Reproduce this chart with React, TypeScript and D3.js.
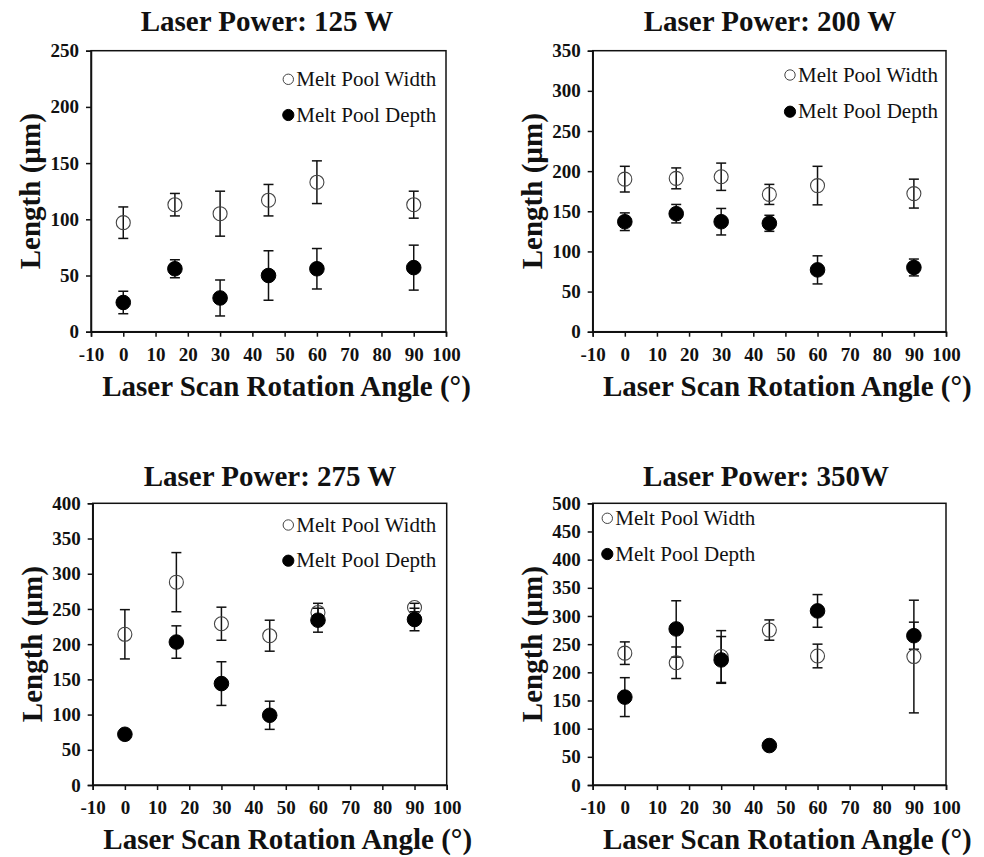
import React, { useEffect, useRef } from "react";
import * as d3 from "d3";

const angles = [0, 16, 30, 45, 60, 90];
const xTicks = [-10, 0, 10, 20, 30, 40, 50, 60, 70, 80, 90, 100];

const titles = ["Laser Power: 125 W", "Laser Power: 200 W", "Laser Power: 275 W", "Laser Power: 350W"];
const yMaxes = [250, 350, 400, 500];

const width125 = [97, 113, 105, 117, 133, 113];
const width125Err = [14, 10, 20, 14, 19, 12];
const depth125 = [26, 56, 30, 50, 56, 57];
const depth125Err = [10, 8, 16, 22, 18, 20];

const width200 = [190, 191, 193, 171, 182, 172];
const width200Err = [16, 13, 17, 12.5, 24, 18];
const depth200 = [137, 147, 137, 135, 77, 80];
const depth200Err = [11, 11.5, 16.5, 10, 17.5, 10.5];

const width275 = [214, 288, 229, 212, 245, 252];
const width275Err = [35, 42, 23.5, 22, 13, 6];
const depth275 = [72, 203, 144, 99, 234, 235];
const depth275Err = [3, 23, 31, 20, 17, 16];

const width350 = [234, 217, 228, 275, 229, 228];
const width350Err = [20, 28, 46, 18, 21, 100];
const depth350 = [156, 277, 222, 70, 309, 265];
const depth350Err = [34.5, 50, 41.5, 3, 29, 24];

const legendLabels = ["Melt Pool Width", "Melt Pool Depth"];
const yLabel = "Length (µm)";
const xLabel = "Laser Scan Rotation Angle (°)";

const FONT = "'Liberation Serif', 'Times New Roman', serif";

const panels = [
  { title: titles[0], yMax: yMaxes[0], w: width125, we: width125Err, d: depth125, de: depth125Err,
    box: [91, 50.7, 446, 331.7], titleX: 267, titleY: 31, legend: { side: "right", dx: -157.7, dy: 28.6, gap: 35.7 } },
  { title: titles[1], yMax: yMaxes[1], w: width200, we: width200Err, d: depth200, de: depth200Err,
    box: [592.7, 50.7, 946, 331.7], titleX: 770, titleY: 31, legend: { side: "right", dx: -156, dy: 24.3, gap: 36.7 } },
  { title: titles[2], yMax: yMaxes[2], w: width275, we: width275Err, d: depth275, de: depth275Err,
    box: [92.7, 503.3, 446.7, 785], titleX: 270, titleY: 486, legend: { side: "right", dx: -158.4, dy: 21.7, gap: 35.7 } },
  { title: titles[3], yMax: yMaxes[3], w: width350, we: width350Err, d: depth350, de: depth350Err,
    box: [592.7, 503.3, 946, 785], titleX: 766, titleY: 486, legend: { side: "left", dx: 14.6, dy: 15, gap: 35.7 } },
];

export default function App() {
  const ref = useRef<SVGSVGElement>(null);

  useEffect(() => {
    const svg = d3.select(ref.current);
    svg.selectAll("*").remove();
    svg.append("rect").attr("width", 984).attr("height", 857).attr("fill", "#fff");

    panels.forEach((p) => {
      const [x0, y0, x1, y1] = p.box;
      const x = d3.scaleLinear().domain([-10, 100]).range([x0, x1]);
      const y = d3.scaleLinear().domain([0, p.yMax]).range([y1, y0]);
      const g = svg.append("g");

      // frame
      g.append("rect")
        .attr("x", x0).attr("y", y0).attr("width", x1 - x0).attr("height", y1 - y0)
        .attr("fill", "none").attr("stroke", "#111").attr("stroke-width", 1.5);

      // axes
      const fmt = (d: any) => String(d);
      const xAxis = d3.axisBottom(x).tickValues(xTicks).tickSize(5).tickPadding(7).tickFormat(fmt);
      const gx = g.append("g").attr("transform", `translate(0,${y1})`).call(xAxis);
      const yAxis = d3.axisLeft(y).tickValues(d3.range(0, p.yMax + 1, 50)).tickSize(5).tickPadding(7).tickFormat(fmt);
      const gy = g.append("g").attr("transform", `translate(${x0},0)`).call(yAxis);
      [gx, gy].forEach((ax) => {
        ax.select(".domain").attr("stroke", "#111").attr("stroke-width", 1.5);
        ax.selectAll(".tick line").attr("stroke", "#111").attr("stroke-width", 1.5);
        ax.selectAll(".tick text")
          .attr("font-family", FONT).attr("font-weight", "bold").attr("font-size", 19).attr("fill", "#111");
      });
      gx.selectAll(".tick text").attr("dy", "0.9em");

      // title
      g.append("text").attr("x", p.titleX).attr("y", p.titleY).attr("text-anchor", "middle")
        .attr("font-family", FONT).attr("font-weight", "bold").attr("font-size", 29).attr("fill", "#111")
        .text(p.title);

      // x label
      g.append("text").attr("x", (x0 + x1) / 2 + 18).attr("y", y1 + 64).attr("text-anchor", "middle")
        .attr("font-family", FONT).attr("font-weight", "bold").attr("font-size", 29).attr("fill", "#111")
        .text(xLabel);

      // y label
      g.append("text")
        .attr("transform", `translate(${x0 - 51},${(y0 + y1) / 2}) rotate(-90)`)
        .attr("text-anchor", "middle")
        .attr("font-family", FONT).attr("font-weight", "bold").attr("font-size", 29).attr("fill", "#111")
        .text(yLabel);

      const series = [
        { vals: p.w, errs: p.we, filled: false },
        { vals: p.d, errs: p.de, filled: true },
      ];

      // error bars
      series.forEach((s) => {
        const eg = g.append("g");
        angles.forEach((a, i) => {
          const cx = x(a);
          const top = y(s.vals[i] + s.errs[i]);
          const bot = y(s.vals[i] - s.errs[i]);
          eg.append("line").attr("x1", cx).attr("x2", cx).attr("y1", top).attr("y2", bot)
            .attr("stroke", "#111").attr("stroke-width", 1.5);
          [top, bot].forEach((yy) =>
            eg.append("line").attr("x1", cx - 5).attr("x2", cx + 5).attr("y1", yy).attr("y2", yy)
              .attr("stroke", "#111").attr("stroke-width", 1.5)
          );
        });
      });

      // markers
      series.forEach((s) => {
        g.append("g").selectAll("circle").data(angles).join("circle")
          .attr("cx", (a) => x(a))
          .attr("cy", (_a, i) => y(s.vals[i]))
          .attr("r", s.filled ? 7.3 : 7)
          .attr("fill", s.filled ? "#000" : "none")
          .attr("stroke", s.filled ? "#000" : "#444")
          .attr("stroke-width", s.filled ? 1 : 1.1);
      });

      // legend
      const lx = p.legend.side === "right" ? x1 + p.legend.dx : x0 + p.legend.dx;
      legendLabels.forEach((lab, i) => {
        const ly = y0 + p.legend.dy + i * p.legend.gap;
        g.append("circle").attr("cx", lx).attr("cy", ly).attr("r", i === 0 ? 5.2 : 5.6)
          .attr("fill", i === 0 ? "none" : "#000").attr("stroke", i === 0 ? "#444" : "#000").attr("stroke-width", 1);
        g.append("text").attr("x", lx + 8).attr("y", ly + 6.5)
          .attr("font-family", FONT).attr("font-size", 21).attr("fill", "#111").text(lab);
      });
    });
  }, []);

  return (
    <svg
      ref={ref}
      width={984}
      height={857}
      style={{ position: "absolute", left: 0, top: 0, display: "block" }}
    />
  );
}
